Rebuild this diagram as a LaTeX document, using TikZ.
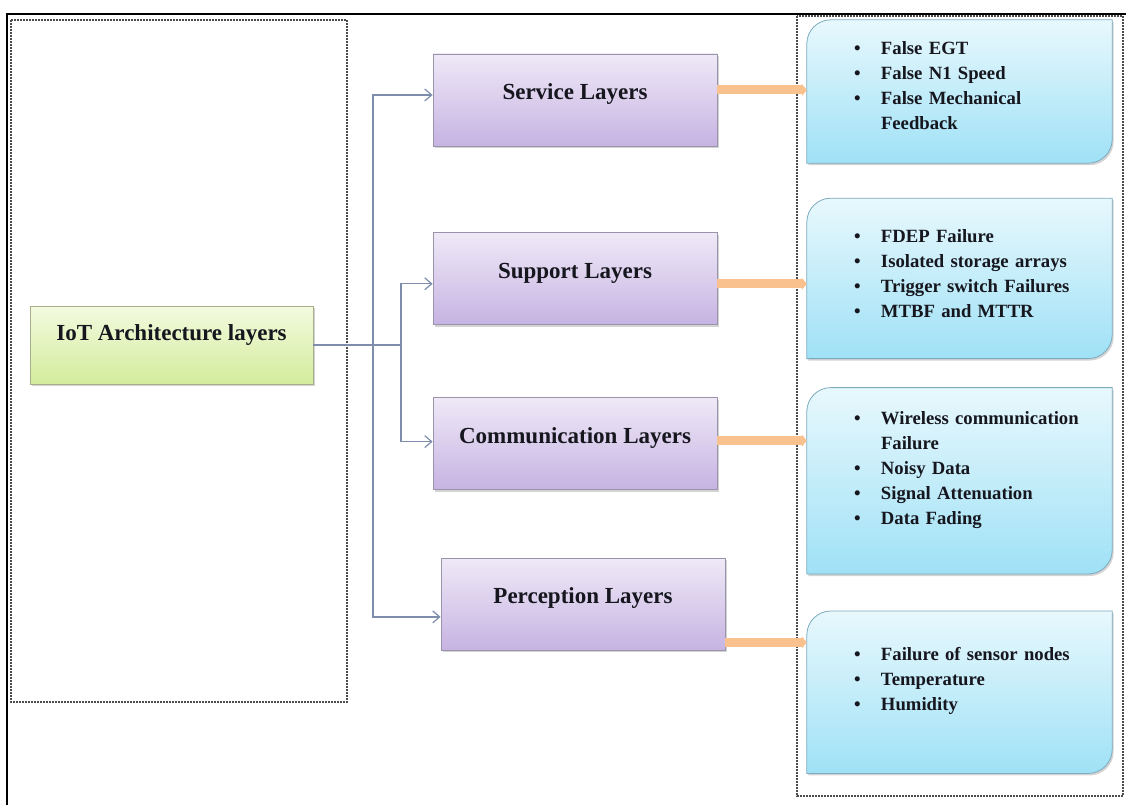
\documentclass[tikz,border=0pt]{standalone}
\usepackage{fontspec}
\setmainfont{Liberation Serif}
\usepackage{tikz}
\usetikzlibrary{positioning, arrows.meta, calc, shadows}

\definecolor{layertop}{HTML}{EFE9F7}
\definecolor{layerbot}{HTML}{C6B3E2}
\definecolor{layerline}{HTML}{9A93AC}
\definecolor{roottop}{HTML}{F3FADF}
\definecolor{rootbot}{HTML}{D3EC9C}
\definecolor{rootline}{HTML}{A6AE8C}
\definecolor{leaftop}{HTML}{E8F8FD}
\definecolor{leafbot}{HTML}{9FE1F6}
\definecolor{leafline}{HTML}{7DABC0}
\definecolor{linkcol}{HTML}{7F8DAD}
\definecolor{bandcol}{HTML}{F8C18D}
\definecolor{inkcol}{HTML}{16161E}

\newcommand{\fitem}[1]{\hspace*{47pt}\makebox[27pt][l]{\textbullet}#1}
\newcommand{\fcont}[1]{\hspace*{74pt}#1}
\newcommand{\leafshape}[1]{%
  \shadedraw[leaf] ($(#1.north west)+(0,-24)$)
    arc[start angle=180, end angle=90, radius=24pt] -- (#1.north east)
    -- ($(#1.south east)+(0,24)$)
    arc[start angle=0, end angle=-90, radius=24pt] -- (#1.south west) -- cycle;}

\begin{document}
\begin{tikzpicture}[
  x=1pt, y=1pt,
  font=\bfseries, text=inkcol,
  frame/.style={line width=2pt, black},
  group/.style={densely dotted, line width=2pt, gray!60!black},
  root/.style={draw=rootline, top color=roottop, bottom color=rootbot,
               minimum width=283pt, minimum height=78pt, line width=0.8pt,
               font=\fontsize{23}{27}\selectfont\bfseries,
               text height=16pt, text depth=25pt,
               drop shadow={shadow xshift=1.5pt, shadow yshift=-2pt, opacity=0.35}},
  layer/.style={draw=layerline, top color=layertop, bottom color=layerbot,
                minimum width=284pt, minimum height=92pt, line width=0.8pt,
                font=\fontsize{23}{27}\selectfont\bfseries,
                text height=16pt, text depth=17pt,
                drop shadow={shadow xshift=1.5pt, shadow yshift=-2pt, opacity=0.35}},
  faultbox/.style={minimum width=305pt, inner sep=0pt},
  leaf/.style={draw=leafline, top color=leaftop, bottom color=leafbot,
               line width=0.8pt,
               drop shadow={shadow xshift=1.5pt, shadow yshift=-2pt, opacity=0.35}},
  faultlist/.style={text width=305pt, inner sep=0pt, align=left,
                    font=\fontsize{18.7}{25}\selectfont\bfseries},
  link/.style={draw=linkcol, line width=1.2pt},
  arr/.style={link, -{Straight Barb[length=7pt, width=12pt]}},
  band/.style={draw=bandcol, line width=9pt, -{Triangle[length=5pt, width=12pt]}},
]
\useasboundingbox (0,0) rectangle (1126,-805);

% outer frame and dotted groups
\draw[frame] (7,-805) -- (7,-14) -- (1126,-14);
\draw[group] (11,-20) rectangle (347,-702);
\draw[group] (797,-16) rectangle (1123,-796);

% root and layers
\node[root] (iot) at (171.5,-345) {IoT Architecture layers};
\node[layer] (service) at (575,-100) {Service Layers};
\node[layer, below=86pt of service] (support) {Support Layers};
\node[layer, below=72pt of support] (comm) {Communication Layers};
\node[layer, below=68pt of comm, xshift=8pt] (perc) {Perception Layers};

% fault lists
\node[faultbox, minimum height=143pt] (f1) at (959.5,-91.5) {};
\node[faultbox, minimum height=160pt, below=35pt of f1] (f2) {};
\node[faultbox, minimum height=186pt, below=29pt of f2] (f3) {};
\node[faultbox, minimum height=162pt, below=37pt of f3] (f4) {};
\leafshape{f1}
\leafshape{f2}
\leafshape{f3}
\leafshape{f4}
\node[faultlist] (l1) at ([yshift=6pt]f1.center)
  {\fitem{False EGT}\\\fitem{False N1 Speed}\\\fitem{False Mechanical}\\\fcont{Feedback}};
\node[faultlist] (l2) at ([yshift=4.5pt]f2.center)
  {\fitem{FDEP Failure}\\\fitem{Isolated storage arrays}\\\fitem{Trigger switch Failures}\\\fitem{MTBF and MTTR}};
\node[faultlist] (l3) at ([yshift=11pt]f3.center)
  {\fitem{Wireless communication}\\\fcont{Failure}\\\fitem{Noisy Data}\\\fitem{Signal Attenuation}\\\fitem{Data Fading}};
\node[faultlist] (l4) at ([yshift=11pt]f4.center)
  {\fitem{Failure of sensor nodes}\\\fitem{Temperature}\\\fitem{Humidity}};

% connectors
\coordinate (trunk) at (373,-345);
\coordinate (split) at (401,-345);
\draw[link] (iot.east) -- (split);
\draw[arr] (trunk) |- ([yshift=5pt]service.west);
\draw[arr] (trunk) |- ([yshift=-12.5pt]perc.west);
\draw[arr] (split) |- ([yshift=-5pt]support.west);
\draw[arr] (split) |- ([yshift=2pt]comm.west);

\draw[band] ([yshift=10pt]service.east) -- ([yshift=10pt]service.east -| f1.west);
\draw[band] ([yshift=-5pt]support.east) -- ([yshift=-5pt]support.east -| f2.west);
\draw[band] ([yshift=3pt]comm.east) -- ([yshift=3pt]comm.east -| f3.west);
\draw[band] ([yshift=-38pt]perc.east) -- ([yshift=-38pt]perc.east -| f4.west);
\end{tikzpicture}
\end{document}
